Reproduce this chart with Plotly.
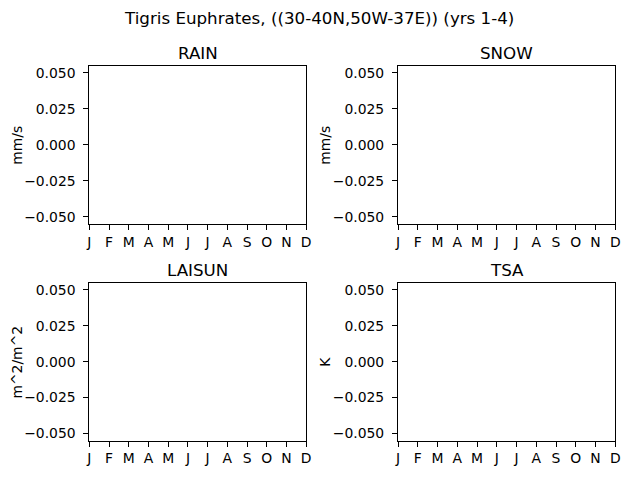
import plotly.graph_objects as go

months = ["J", "F", "M", "A", "M", "J", "J", "A", "S", "O", "N", "D"]
month_index = [1, 2, 3, 4, 5, 6, 7, 8, 9, 10, 11, 12]
panel_titles = ["RAIN", "SNOW", "LAISUN", "TSA"]
panel_units = ["mm/s", "mm/s", "m^2/m^2", "K"]
# Series are empty (no data plotted in the reference)
rain = [None, None, None, None, None, None, None, None, None, None, None, None]
snow = [None, None, None, None, None, None, None, None, None, None, None, None]
laisun = [None, None, None, None, None, None, None, None, None, None, None, None]
tsa = [None, None, None, None, None, None, None, None, None, None, None, None]
ytick_vals = [-0.05, -0.025, 0.0, 0.025, 0.05]
ytick_text = ["\u22120.050", "\u22120.025", "0.000", "0.025", "0.050"]
suptitle = "Tigris Euphrates, ((30-40N,50W-37E)) (yrs 1-4)"

W, H = 640, 480
FONT = "DejaVu Sans"
FS = 13.9
TS = 16.7
# pixel boxes of each axes: (left, right, top, bottom)
boxes = [(87.5, 307, 65, 224), (400, 620, 65, 224),
         (87.5, 307, 283, 441.5), (400, 620, 283, 441.5)]
ylabel_x = [14, 326, 14, 326]

fig = go.Figure()
series = [rain, snow, laisun, tsa]
layout = dict(
    width=W, height=H, margin=dict(l=0, r=0, t=0, b=0, pad=0),
    paper_bgcolor="white", plot_bgcolor="white", showlegend=False,
    font=dict(family=FONT, size=FS, color="black"),
)
annotations = [dict(text=suptitle, x=0.5, y=1 - 17 / H, xref="paper", yref="paper",
                    showarrow=False, font=dict(size=TS, family=FONT), xanchor="center", yanchor="middle")]
for i, (vals, box) in enumerate(zip(series, boxes)):
    n = "" if i == 0 else str(i + 1)
    l, r, t, b = box
    fig.add_trace(go.Scatter(x=month_index, y=vals, mode="lines", xaxis="x" + n, yaxis="y" + n,
                             line=dict(color="#1f77b4")))
    axcommon = dict(showline=True, linecolor="black", linewidth=1.1, mirror=True,
                    ticks="outside", ticklen=5, tickwidth=1.1, tickcolor="black",
                    showgrid=False, zeroline=False, tickfont=dict(size=FS, family=FONT))
    layout["xaxis" + n] = dict(domain=[l / W, r / W], anchor="y" + n, range=[1, 12],
                               tickmode="array", tickvals=month_index, ticktext=months, **axcommon)
    layout["yaxis" + n] = dict(domain=[1 - b / H, 1 - t / H], anchor="x" + n, range=[-0.055, 0.055],
                               tickmode="array", tickvals=ytick_vals, ticktext=ytick_text,
                               ticklabelstandoff=5, **axcommon)
    annotations.append(dict(text=panel_titles[i], x=(l + r) / 2 / W, y=1 - (t - 13) / H,
                            xref="paper", yref="paper", showarrow=False,
                            font=dict(size=TS, family=FONT), xanchor="center", yanchor="middle"))
    annotations.append(dict(text=panel_units[i], x=ylabel_x[i] / W, y=1 - (t + b) / 2 / H,
                            xref="paper", yref="paper", showarrow=False, textangle=-90,
                            font=dict(size=FS, family=FONT), xanchor="center", yanchor="middle"))
layout["annotations"] = annotations
fig.update_layout(**layout)
fig.write_html("out.html", config={"displayModeBar": False},
               post_script="document.body.style.margin='0px';")
